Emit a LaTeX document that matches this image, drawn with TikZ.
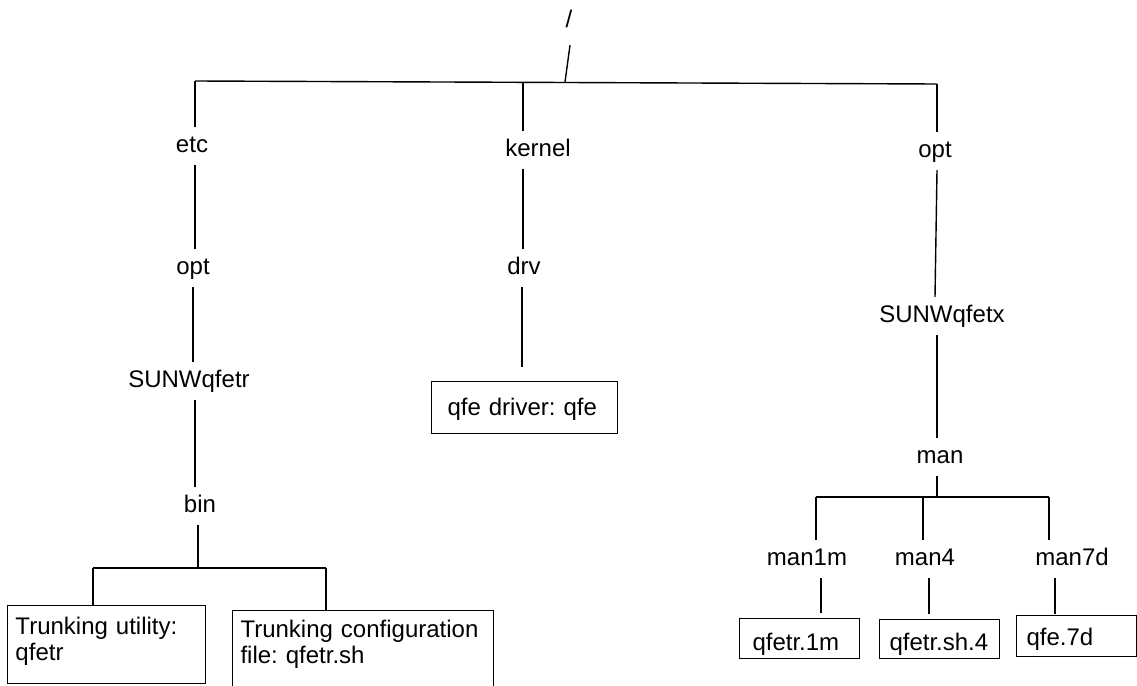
\documentclass[tikz,border=0pt]{standalone}
\usepackage{fontspec}
\setmainfont{Liberation Sans}
\frenchspacing
\begin{document}
\begin{tikzpicture}[x=1pt,y=-1pt,
  lbl/.style={anchor=base, inner xsep=2pt, inner ysep=8pt, text height=17pt, text depth=5pt, font=\fontsize{24}{26}\selectfont},
  fbox/.style={draw, line width=1pt, anchor=north west, inner ysep=0pt, align=left, font=\fontsize{24}{26}\selectfont\frenchspacing},
  conn/.style={line width=1.4pt}]
\useasboundingbox (0,0) rectangle (1137,685);
\clip (0,0) rectangle (1137,685);

% labels
\node[lbl] (root) at (569,28) {/};
\node[lbl] (etc) at (192,152) {etc};
\node[lbl] (kernel) at (538,156) {kernel};
\node[lbl] (opt2) at (935,157) {opt};
\node[lbl] (opt1) at (193,274) {opt};
\node[lbl] (drv) at (524,274) {drv};
\node[lbl] (sun1) at (189,387) {SUNWqfetr};
\node[lbl] (sunx) at (942,322) {SUNWqfetx};
\node[lbl] (bin) at (200,512) {bin};
\node[lbl] (man) at (940,463) {man};
\node[lbl] (man1m) at (807,565) {man1m};
\node[lbl] (man4) at (925,565) {man4};
\node[lbl] (man7d) at (1072,565) {man7d};

% boxes
\node[fbox, inner xsep=8pt, text width=182pt, text height=29pt, text depth=49pt] (util) at (7,605) {Trunking utility:\\qfetr};
\node[fbox, inner xsep=8pt, text width=245pt, text height=27pt, text depth=123pt] (conf) at (232,610) {Trunking configuration\\file: qfetr.sh};
\node[fbox, inner xsep=16pt, text width=154pt, text height=34pt, text depth=18pt] (qfedrv) at (431,381) {qfe driver: qfe};
\node[fbox, inner xsep=13pt, text width=94pt, text height=32pt, text depth=8pt] (f1m) at (739,618) {qfetr.1m};
\node[fbox, inner xsep=10pt, text width=100pt, text height=31pt, text depth=8pt] (f4) at (879,619) {qfetr.sh.4};
\node[fbox, inner xsep=10pt, text width=100pt, text height=30pt, text depth=11pt] (f7d) at (1016,615) {qfe.7d};

% junction points
\coordinate (rootj) at (565,82);
\coordinate (barL) at (195,81);
\coordinate (kj) at (523,82);
\coordinate (barR) at (937,84);
\coordinate (bj) at (198,568);
\coordinate (b1j) at (93,568);
\coordinate (b2j) at (326,568);
\coordinate (mj) at (937,497);
\coordinate (m1j) at (816,497);
\coordinate (m2j) at (923,497);
\coordinate (m3j) at (1049,497);

% connectors
\draw[conn] ([xshift=1pt,yshift=-4pt]root.south) -- (rootj);
\draw[conn] (barL) -- (barR);
\draw[conn] (barL) -- (barL |- etc.north);
\draw[conn] (barL |- etc.south) -- (barL |- opt1.north);
\draw[conn] (opt1.south) -- (opt1.south |- sun1.north);
\draw[conn] (barL |- sun1.south) -- (barL |- bin.north);
\draw[conn] (bj |- bin.south) -- (bj);
\draw[conn] (b1j) -- (b2j);
\draw[conn] (b1j) -- (b1j |- util.north);
\draw[conn] (b2j) -- (b2j |- conf.north);
\draw[conn] (kj) -- (kj |- kernel.north);
\draw[conn] (kj |- kernel.south) -- (kj |- drv.north);
\draw[conn,shorten >=14pt] ([xshift=-1pt]kj |- drv.south) -- ([xshift=-1pt]kj |- qfedrv.north);
\draw[conn] (barR) -- (barR |- opt2.north);
\draw[conn] (barR |- opt2.south) -- ([xshift=-2pt]barR |- sunx.north);
\draw[conn] (barR |- sunx.south) -- (barR |- man.north);
\draw[conn] (mj |- man.south) -- (mj);
\draw[conn] (m1j) -- (m3j);
\draw[conn] (m1j) -- (m1j |- man1m.north);
\draw[conn] (m2j) -- (m2j |- man4.north);
\draw[conn] (m3j) -- (m3j |- man7d.north);
\draw[conn,shorten >=5pt] ([xshift=14pt]man1m.south) -- ([xshift=14pt]man1m.south |- f1m.north);
\draw[conn,shorten >=5pt] ([xshift=4pt]man4.south) -- ([xshift=4pt]man4.south |- f4.north);
\draw[conn,shorten >=1pt] ([xshift=-17pt]man7d.south) -- ([xshift=-17pt]man7d.south |- f7d.north);
\end{tikzpicture}
\end{document}
